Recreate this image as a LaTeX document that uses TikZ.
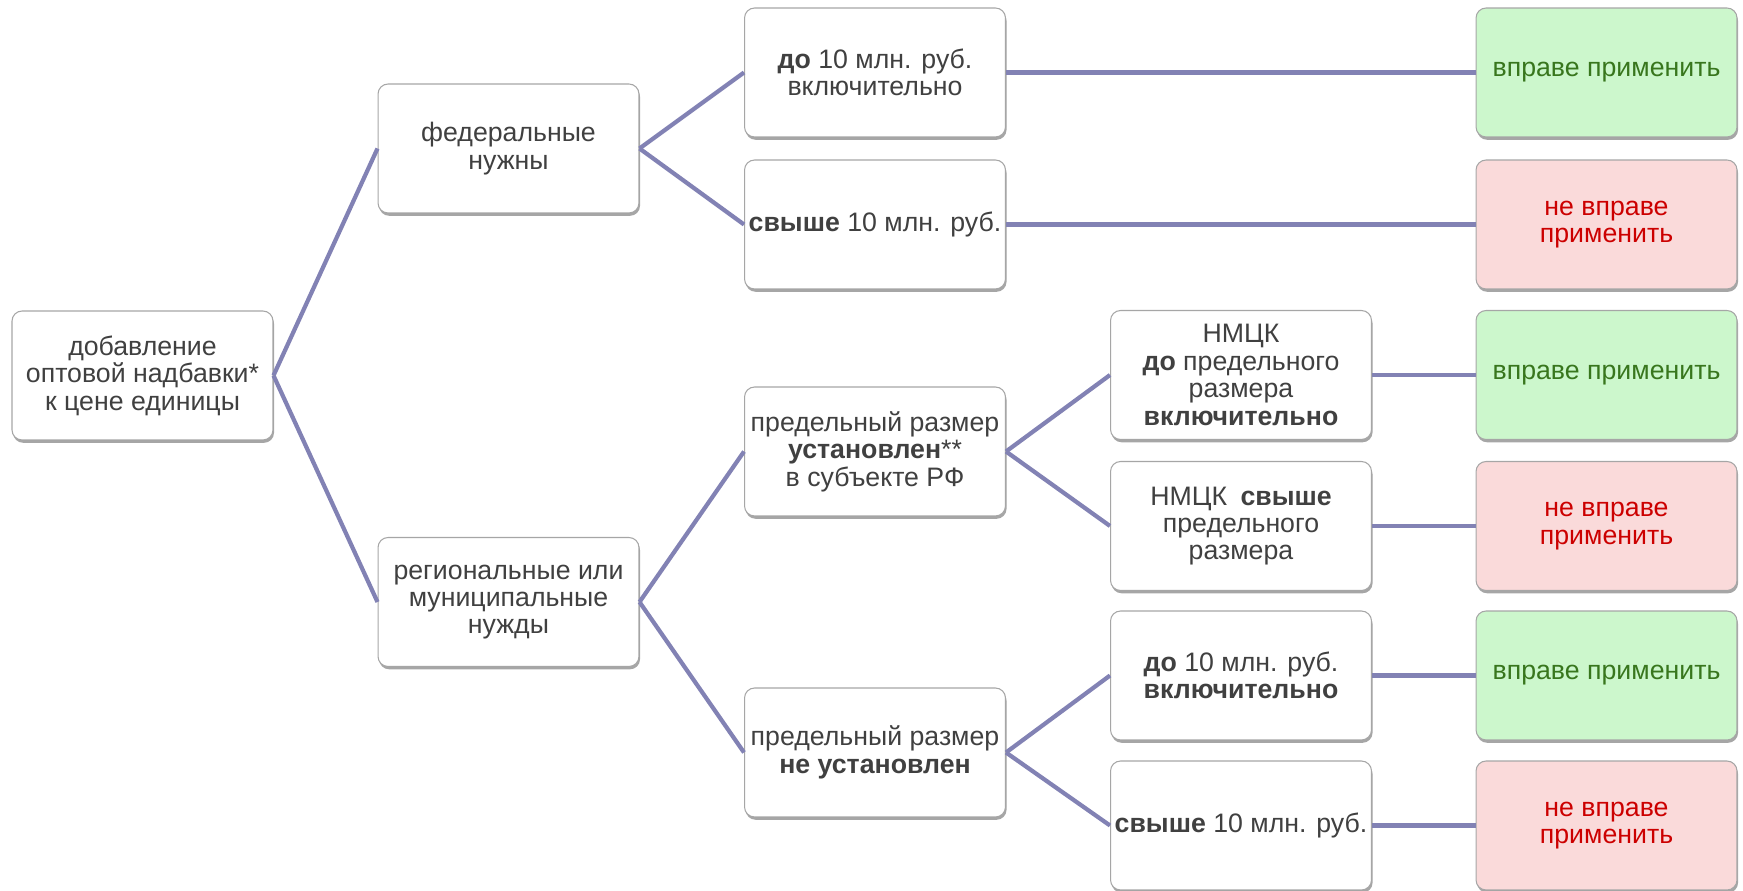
\documentclass[tikz,border=0pt]{standalone}
\usepackage{fontspec}
\setmainfont{Liberation Sans}
\usetikzlibrary{shadows}
\definecolor{txtgray}{RGB}{64,64,64}
\definecolor{boxline}{RGB}{166,166,166}
\definecolor{linkcol}{RGB}{130,130,180}
\definecolor{okfill}{RGB}{204,247,204}
\definecolor{oktext}{RGB}{56,118,29}
\definecolor{nofill}{RGB}{250,218,218}
\definecolor{notext}{RGB}{204,0,0}

\begin{document}
\begin{tikzpicture}[x=0.02cm, y=-0.02cm,
        box/.style={draw=boxline, line width=0.6pt, fill=white, rounded corners=0.2cm,
            minimum width=5.22cm, minimum height=2.58cm, inner xsep=0.5pt, align=center, text=txtgray,
            font=\fontsize{15.2}{15.6}\selectfont,
            drop shadow={shadow xshift=0.6pt, shadow yshift=-1.6pt, opacity=0.35, fill=black}},
        okbox/.style={box, fill=okfill, text=oktext},
        nobox/.style={box, fill=nofill, text=notext},
        link/.style={draw=linkcol, line width=2.4pt}]
        \useasboundingbox (0, 0) rectangle (1743, 891);

        \node [box] (root) at (142.5, 375.5) {добавление\\оптовой надбавки*\\к цене единицы};

        \node [box] (fed) at (508.5, 148.5) {федеральные\\нужны};
        \node [box] (reg) at (508.5, 602) {региональные или\\муниципальные\\нужды};

        \node [box] (fedlow) at (875, 72.5) {\textbf{до} 10 млн. руб.\\включительно};
        \node [box] (fedhigh) at (875, 224.5) {\textbf{свыше} 10 млн. руб.};
        \node [box] (limset) at (875, 451.5) {предельный размер\\\textbf{установлен}**\\в субъекте РФ};
        \node [box] (limnone) at (875, 752.5) {предельный размер\\\textbf{не установлен}};

        \node [box] (nmckle) at (1241, 375) {НМЦК\\\textbf{до} предельного\\размера\\\textbf{включительно}};
        \node [box] (nmckgt) at (1241, 526) {НМЦК\enspace\textbf{свыше}\\предельного\\размера};
        \node [box] (lowle) at (1241, 675.5) {\textbf{до} 10 млн. руб.\\\textbf{включительно}};
        \node [box] (lowgt) at (1241, 825.5) {\textbf{свыше} 10 млн. руб.};

        \node [okbox] (ok1) at (1606.5, 72.5) {вправе применить};
        \node [nobox] (no1) at (1606.5, 224.5) {не вправе\\применить};
        \node [okbox] (ok2) at (1606.5, 375) {вправе применить};
        \node [nobox] (no2) at (1606.5, 526) {не вправе\\применить};
        \node [okbox] (ok3) at (1606.5, 675.5) {вправе применить};
        \node [nobox] (no3) at (1606.5, 825.5) {не вправе\\применить};

        \draw [link] (root.east) -- (fed.west);
        \draw [link] (root.east) -- (reg.west);
        \draw [link] (fed.east) -- (fedlow.west);
        \draw [link] (fed.east) -- (fedhigh.west);
        \draw [link] (reg.east) -- (limset.west);
        \draw [link] (reg.east) -- (limnone.west);
        \draw [link] (limset.east) -- (nmckle.west);
        \draw [link] (limset.east) -- (nmckgt.west);
        \draw [link] (limnone.east) -- (lowle.west);
        \draw [link] (limnone.east) -- (lowgt.west);

        \draw [link] (fedlow.east) -- (ok1.west);
        \draw [link] (fedhigh.east) -- (no1.west);
        \draw [link] (nmckle.east) -- (ok2.west);
        \draw [link] (nmckgt.east) -- (no2.west);
        \draw [link] (lowle.east) -- (ok3.west);
        \draw [link] (lowgt.east) -- (no3.west);
    \end{tikzpicture}
\end{document}
